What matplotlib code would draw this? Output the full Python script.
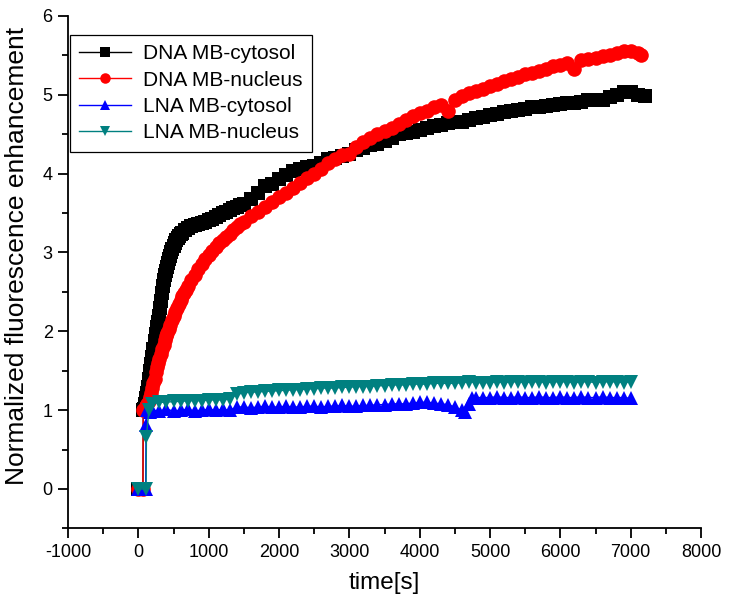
import matplotlib
matplotlib.use("Agg")
import matplotlib.pyplot as plt
from matplotlib.ticker import MultipleLocator

plt.rcParams['font.family'] = ['Liberation Sans', 'DejaVu Sans']

# ---------------- data ----------------
dna_cyt_t = [0, 65, 70, 80, 95, 110, 125, 140, 155, 170, 185, 200, 215, 230, 245, 260, 275,
             290, 305, 320, 335, 350, 365, 380, 395, 410, 425, 440, 455, 470, 485, 500,
             520, 540, 560, 580, 600, 620, 660, 700, 750, 800, 850, 900, 950, 1000,
             1050, 1100, 1150, 1200, 1250, 1300, 1350, 1400, 1450, 1500,
             1600, 1700, 1800, 1900, 2000,
             2100, 2200, 2300, 2400, 2500, 2600, 2700, 2800, 2900, 3000,
             3100, 3200, 3300, 3400, 3500, 3600, 3700, 3800, 3900, 4000,
             4100, 4200, 4300, 4400, 4500, 4600, 4700, 4800, 4900, 5000,
             5100, 5200, 5300, 5400, 5500, 5600, 5700, 5800, 5900, 6000,
             6100, 6200, 6300, 6400, 6500, 6600, 6700, 6800, 6900, 7000,
             7100, 7200]
dna_cyt_y = [0.0, 0.0, 1.00, 1.02, 1.08, 1.15, 1.22, 1.30, 1.40, 1.50, 1.59, 1.68, 1.78, 1.88, 1.97, 2.05, 2.12,
             2.20, 2.29, 2.38, 2.48, 2.57, 2.65, 2.72, 2.77, 2.82, 2.87, 2.92, 2.96, 3.00, 3.04, 3.08,
             3.12, 3.16, 3.19, 3.21, 3.23, 3.25, 3.29, 3.31, 3.33, 3.35, 3.36, 3.38, 3.39, 3.41,
             3.42, 3.45, 3.47, 3.50, 3.52, 3.54, 3.56, 3.58, 3.60, 3.62,
             3.68, 3.76, 3.84, 3.87, 3.93,
             3.98, 4.04, 4.06, 4.08, 4.10, 4.14, 4.18, 4.20, 4.22, 4.25,
             4.30, 4.33, 4.36, 4.38, 4.42, 4.45, 4.50, 4.52, 4.53, 4.56,
             4.58, 4.60, 4.62, 4.64, 4.66, 4.66, 4.68, 4.71, 4.72, 4.74,
             4.76, 4.78, 4.80, 4.81, 4.82, 4.84, 4.85, 4.86, 4.87, 4.88,
             4.90, 4.90, 4.91, 4.93, 4.94, 4.94, 4.97, 5.00, 5.03, 5.04,
             5.00, 4.99]

dna_nuc_t = [0, 65, 70, 90, 110, 130, 150, 170, 185, 200, 215, 230, 250, 270, 285, 300,
             320, 340, 360, 380, 395, 410, 430, 450, 475, 500, 525, 550, 575, 600,
             625, 650, 675, 700, 750, 800, 850, 900, 950, 1000,
             1050, 1100, 1150, 1200, 1250, 1300, 1350, 1400, 1450, 1500,
             1600, 1700, 1800, 1900, 2000,
             2100, 2200, 2300, 2400, 2500, 2600, 2700, 2800, 2900, 3000,
             3100, 3200, 3300, 3400, 3500, 3600, 3700, 3800, 3900, 4000,
             4100, 4200, 4300, 4400, 4500, 4600, 4700, 4800, 4900, 5000,
             5100, 5200, 5300, 5400, 5500, 5600, 5700, 5800, 5900, 6000,
             6100, 6200, 6300, 6400, 6500, 6600, 6700, 6800, 6900, 7000,
             7100, 7150]
dna_nuc_y = [0.0, 0.0, 1.00, 1.02, 1.05, 1.08, 1.12, 1.17, 1.22, 1.28, 1.34, 1.40, 1.48, 1.55, 1.60, 1.65,
             1.71, 1.77, 1.83, 1.89, 1.94, 1.98, 2.03, 2.08, 2.14, 2.20, 2.25, 2.30, 2.35, 2.40,
             2.45, 2.49, 2.53, 2.57, 2.65, 2.72, 2.79, 2.86, 2.92, 2.97,
             3.02, 3.07, 3.12, 3.16, 3.20, 3.24, 3.28, 3.32, 3.36, 3.39,
             3.46, 3.52, 3.58, 3.64, 3.70,
             3.76, 3.82, 3.88, 3.94, 4.00, 4.06, 4.13, 4.18, 4.24, 4.25,
             4.34, 4.40, 4.45, 4.50, 4.54, 4.58, 4.63, 4.68, 4.73, 4.77,
             4.80, 4.84, 4.87, 4.79, 4.93, 4.98, 5.02, 5.05, 5.08, 5.11,
             5.14, 5.17, 5.20, 5.23, 5.26, 5.28, 5.30, 5.33, 5.36, 5.38,
             5.41, 5.33, 5.44, 5.46, 5.47, 5.49, 5.51, 5.53, 5.55, 5.55,
             5.53, 5.50]

lna_cyt_t = [0, 105, 110, 130, 160, 200, 300, 400, 500, 600, 700, 800, 900, 1000,
             1100, 1200, 1300, 1400, 1500, 1600, 1700, 1800, 1900, 2000,
             2100, 2200, 2300, 2400, 2500, 2600, 2700, 2800, 2900, 3000,
             3100, 3200, 3300, 3400, 3500, 3600, 3700, 3800, 3900, 4000,
             4100, 4200, 4300, 4400, 4500, 4600, 4650, 4700, 4750, 4800, 4900, 5000,
             5100, 5200, 5300, 5400, 5500, 5600, 5700, 5800, 5900, 6000,
             6100, 6200, 6300, 6400, 6500, 6600, 6700, 6800, 6900, 7000]
lna_cyt_y = [0.0, 0.0, 0.81, 1.00, 0.98, 1.00, 0.99, 1.01, 0.99, 1.00, 1.01, 0.99, 1.00, 1.01,
             1.00, 1.01, 1.00, 1.04, 1.04, 1.03, 1.04, 1.05, 1.04, 1.04,
             1.05, 1.04, 1.04, 1.05, 1.05, 1.04, 1.05, 1.05, 1.06, 1.05,
             1.05, 1.06, 1.06, 1.07, 1.07, 1.08, 1.08, 1.08, 1.09, 1.10,
             1.10, 1.09, 1.08, 1.07, 1.04, 1.00, 0.98, 1.08, 1.15, 1.16, 1.16, 1.16,
             1.17, 1.16, 1.16, 1.17, 1.16, 1.16, 1.17, 1.16, 1.16, 1.17,
             1.16, 1.16, 1.17, 1.16, 1.16, 1.17, 1.16, 1.16, 1.16, 1.15]

lna_nuc_t = [0, 110, 115, 150, 200, 300, 400, 500, 600, 700, 800, 900, 1000,
             1100, 1200, 1300, 1400, 1500, 1600, 1700, 1800, 1900, 2000,
             2100, 2200, 2300, 2400, 2500, 2600, 2700, 2800, 2900, 3000,
             3100, 3200, 3300, 3400, 3500, 3600, 3700, 3800, 3900, 4000,
             4100, 4200, 4300, 4400, 4500, 4600, 4700, 4800, 4900, 5000,
             5100, 5200, 5300, 5400, 5500, 5600, 5700, 5800, 5900, 6000,
             6100, 6200, 6300, 6400, 6500, 6600, 6700, 6800, 6900, 7000]
lna_nuc_y = [0.0, 0.0, 0.66, 1.00, 1.08, 1.10, 1.10, 1.11, 1.11, 1.12, 1.12, 1.12, 1.13,
             1.13, 1.13, 1.14, 1.20, 1.22, 1.23, 1.23, 1.24, 1.24, 1.25,
             1.25, 1.26, 1.26, 1.27, 1.27, 1.28, 1.28, 1.28, 1.29, 1.29,
             1.30, 1.30, 1.30, 1.31, 1.31, 1.32, 1.32, 1.32, 1.33, 1.33,
             1.33, 1.34, 1.34, 1.34, 1.34, 1.35, 1.36, 1.35, 1.35, 1.35,
             1.36, 1.35, 1.36, 1.36, 1.35, 1.36, 1.36, 1.35, 1.36, 1.36,
             1.36, 1.35, 1.36, 1.36, 1.35, 1.36, 1.36, 1.36, 1.35, 1.36]

labels = ['DNA MB-cytosol', 'DNA MB-nucleus', 'LNA MB-cytosol', 'LNA MB-nucleus']
x_ticks = [-1000, 0, 1000, 2000, 3000, 4000, 5000, 6000, 7000, 8000]
y_ticks = [0, 1, 2, 3, 4, 5, 6]

# ---------------- figure ----------------
fig = plt.figure(figsize=(7.29, 6.11), dpi=100)
ax = fig.add_axes([68 / 729, (611 - 528.4) / 611, 633 / 729, (528.4 - 16) / 611])

series = [
    (dna_cyt_t, dna_cyt_y, 's', 'black'),
    (dna_nuc_t, dna_nuc_y, 'o', 'red'),
    (lna_cyt_t, lna_cyt_y, '^', 'blue'),
    (lna_nuc_t, lna_nuc_y, 'v', '#008080'),
]
for (t, y, m, c), lab in zip(series, labels):
    ax.plot(t, y, color=c, lw=1.0, marker=m, markersize=10.5,
            markeredgewidth=0, markerfacecolor=c, label=lab)

ax.set_xlim(-1000, 8000)
ax.set_ylim(-0.5, 6)
ax.set_xticks(x_ticks)
ax.set_xticklabels([str(v) for v in x_ticks])
ax.set_yticks(y_ticks)
ax.xaxis.set_minor_locator(MultipleLocator(500))
ax.yaxis.set_minor_locator(MultipleLocator(0.5))

for s in ['top', 'right']:
    ax.spines[s].set_visible(False)
for s in ['left', 'bottom']:
    ax.spines[s].set_linewidth(1.3)

ax.tick_params(which='major', direction='out', length=7, width=1.3, labelsize=13, pad=4)
ax.tick_params(which='minor', direction='out', length=4, width=1.3)

ax.set_xlabel('time[s]', fontsize=17.5, labelpad=8)
ax.set_ylabel('Normalized fluorescence enhancement', fontsize=19, labelpad=6)
ax.yaxis.set_label_coords(-0.062, 0.532)

leg = ax.legend(loc='upper left', bbox_to_anchor=(0.003, 0.963), borderaxespad=0,
                fontsize=15, handlelength=2.5, handletextpad=0.55, borderpad=0.45,
                labelspacing=0.35, markerscale=0.72, fancybox=False, frameon=True, framealpha=1)
leg.get_frame().set_edgecolor('black')
leg.get_frame().set_linewidth(0.9)

fig.savefig('out.png', dpi=100)
